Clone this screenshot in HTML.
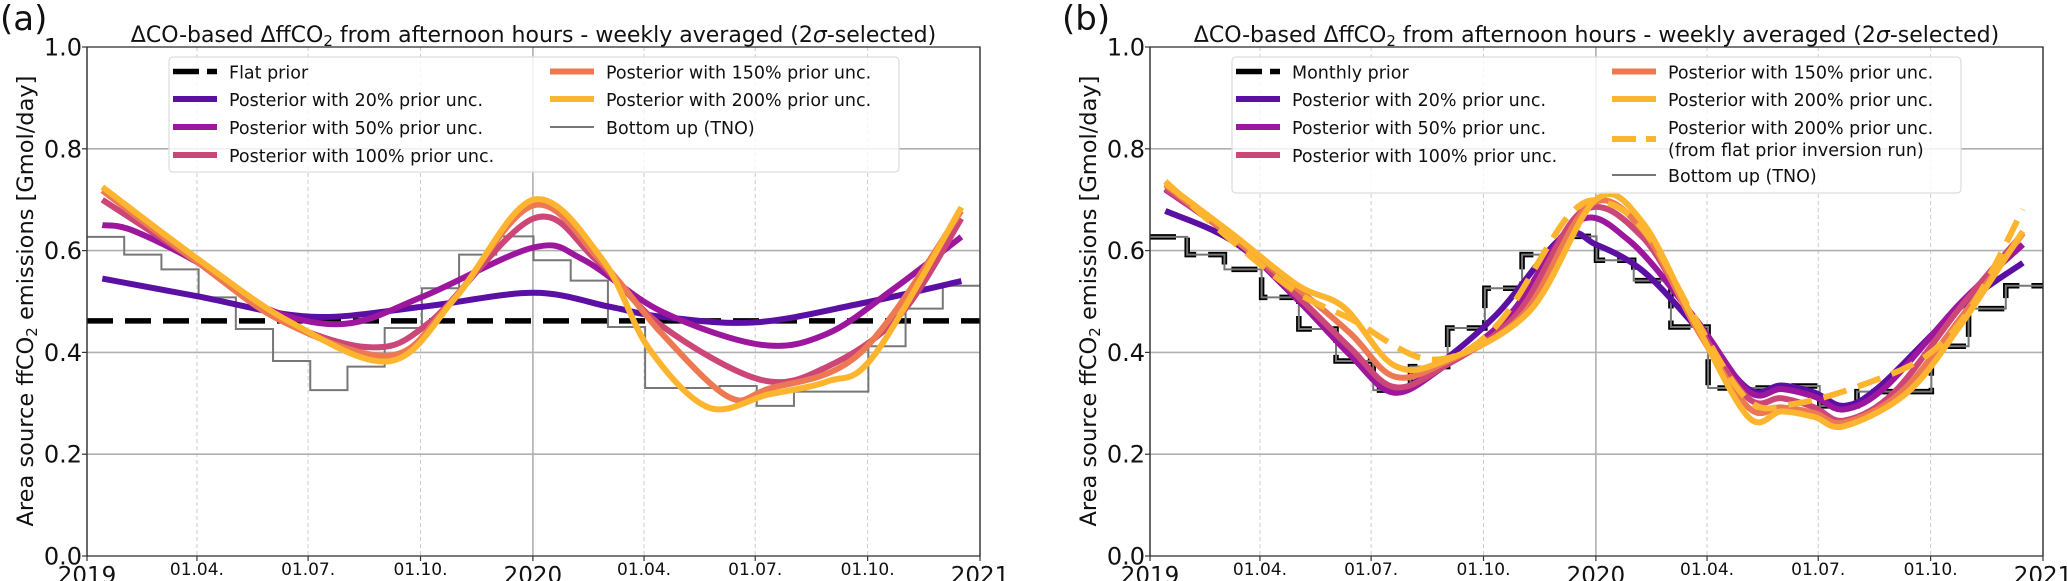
<!DOCTYPE html>
<html><head><meta charset="utf-8">
<style>
html,body{margin:0;padding:0;background:#fff;}
svg{display:block;font-family:"DejaVu Sans","Liberation Sans",sans-serif;}
</style></head>
<body>
<svg id="chart" width="2067" height="581" viewBox="0 0 2067 581" xmlns="http://www.w3.org/2000/svg"></svg>
<script>
// ---------- data (x in months since 1 Jan 2019, y in Gmol/day) ----------
const tickDays = [0, 90, 181, 273, 365, 456, 547, 639, 731];
const tickLabels = ["2019","01.04.","01.07.","01.10.","2020","01.04.","01.07.","01.10.","2021"];
const yTicks = [0.0, 0.2, 0.4, 0.6, 0.8, 1.0];
const yTickLabels = ["0.0","0.2","0.4","0.6","0.8","1.0"];

const tnoMonthly = [0.627,0.592,0.563,0.508,0.446,0.383,0.326,0.372,0.448,0.526,0.592,0.628,
                    0.581,0.541,0.450,0.330,0.330,0.334,0.295,0.323,0.323,0.412,0.486,0.531];
const flatPrior = 0.462;

// panel a
const aP20x  = [0.41,2.99,6.02,9.04,12.0,14.03,15.45,17.95,20.8,23.5];
const aP20y  = [0.545,0.51,0.47,0.49,0.517,0.49,0.47,0.459,0.496,0.54];
const aP50x  = [0.41,1.21,2.99,4.77,6.91,9.04,12.0,13.32,15.45,18.12,19.9,21.68,23.5];
const aP50y  = [0.65,0.64,0.576,0.488,0.456,0.51,0.606,0.583,0.48,0.415,0.437,0.525,0.627];
const aP100x = [0.41,2.99,5.13,7.62,9.22,12.0,13.67,15.45,18.12,19.9,21.86,23.5];
const aP100y = [0.70,0.576,0.466,0.41,0.46,0.663,0.583,0.452,0.346,0.372,0.474,0.663];
const aP150x = [0.41,2.99,5.31,8.15,9.76,12.0,13.85,15.45,17.23,18.3,20.8,23.5];
const aP150y = [0.718,0.576,0.459,0.394,0.496,0.689,0.576,0.437,0.313,0.328,0.40,0.678];
const aP200x = [0.41,2.99,5.48,8.15,9.93,12.0,13.85,15.1,16.7,18.3,19.9,21.15,23.5];
const aP200y = [0.725,0.583,0.459,0.383,0.51,0.70,0.583,0.408,0.292,0.317,0.343,0.394,0.685];

// panel b
const bP20x  = [0.41,2.19,3.97,5.39,6.55,7.53,9.31,11.09,11.98,13.23,14.65,16.08,16.97,17.86,18.66,19.64,21.77,23.46];
const bP20y  = [0.678,0.62,0.51,0.40,0.328,0.364,0.474,0.627,0.612,0.561,0.452,0.328,0.335,0.321,0.295,0.335,0.488,0.576];
const bP50x  = [0.41,2.19,3.97,5.39,6.55,7.89,9.67,11.45,12.87,14.65,16.08,16.97,17.86,18.66,19.81,21.77,23.46];
const bP50y  = [0.72,0.627,0.503,0.394,0.321,0.372,0.474,0.656,0.62,0.467,0.324,0.328,0.313,0.288,0.335,0.496,0.612];
const bP100x = [0.41,2.19,3.97,5.39,6.55,7.89,9.85,11.63,13.23,14.65,16.08,16.97,17.86,18.66,19.99,21.77,23.46];
const bP100y = [0.722,0.627,0.51,0.408,0.332,0.372,0.474,0.678,0.627,0.459,0.31,0.31,0.292,0.266,0.321,0.488,0.634];
const bP150x = [0.41,2.19,3.97,5.39,6.55,7.89,10.02,11.8,13.23,14.65,16.08,16.97,17.86,18.66,20.17,21.77,23.46];
const bP150y = [0.729,0.627,0.525,0.437,0.353,0.379,0.474,0.689,0.641,0.452,0.292,0.292,0.281,0.262,0.321,0.466,0.634];
const bP200x = [0.41,2.19,3.97,5.22,6.55,7.89,10.2,11.98,13.23,14.65,16.08,16.97,17.86,18.66,20.35,21.77,23.46];
const bP200y = [0.732,0.634,0.532,0.488,0.375,0.383,0.481,0.70,0.656,0.459,0.273,0.284,0.273,0.255,0.321,0.452,0.638];
const bFlatx = [0.41,2.19,3.97,5.39,7.53,9.31,11.27,12.34,13.41,14.65,16.08,17.32,19.1,20.88,22.13,23.46];
const bFlaty = [0.736,0.62,0.517,0.466,0.386,0.452,0.67,0.692,0.627,0.467,0.306,0.299,0.335,0.394,0.496,0.681];

const C20="#5b0fa3", C50="#9c179e", C100="#cc4778", C150="#ed7953", C200="#fdb42f";

// ---------- drawing ----------
const svg = document.getElementById('chart');
const NS = "http://www.w3.org/2000/svg";
function mk(tag, attrs, parent){
  const e = document.createElementNS(NS, tag);
  for (const k in attrs) e.setAttribute(k, attrs[k]);
  (parent||svg).appendChild(e);
  return e;
}
function smoothPath(pts){
  let d = "M"+pts[0][0].toFixed(1)+","+pts[0][1].toFixed(1);
  for (let i=0;i<pts.length-1;i++){
    const p0=pts[Math.max(0,i-1)], p1=pts[i], p2=pts[i+1], p3=pts[Math.min(pts.length-1,i+2)];
    const c1x=p1[0]+(p2[0]-p0[0])/6, c1y=p1[1]+(p2[1]-p0[1])/6;
    const c2x=p2[0]-(p3[0]-p1[0])/6, c2y=p2[1]-(p3[1]-p1[1])/6;
    d+=" C"+c1x.toFixed(1)+","+c1y.toFixed(1)+" "+c2x.toFixed(1)+","+c2y.toFixed(1)+" "+p2[0].toFixed(1)+","+p2[1].toFixed(1);
  }
  return d;
}

function panel(cfg){
  const g = mk('g', {});
  
  
  const X0=cfg.x0, X1=cfg.x1, Y0=556, Y1=47;
  const xm = m => X0 + m/24*(X1-X0);
  const xd = d => X0 + d/731*(X1-X0);
  const y = v => Y0 - v*(Y0-Y1);

  tickDays.forEach((d,i)=>{
    const major = (i%4===0);
    const l = mk('line',{x1:xd(d),x2:xd(d),y1:Y1,y2:Y0,stroke:major?"#b0b0b0":"#cccccc","stroke-width":major?1.6:1,"stroke-dasharray":major?"none":"4,3"},g);
    
    
  });
  yTicks.forEach(v=>{
    if (v===0||v===1) return;
    const l = mk('line',{x1:X0,x2:X1,y1:y(v),y2:y(v),stroke:"#b0b0b0","stroke-width":1.6},g);
    
    
  });

  function stepPath(vals){
    let d="";
    vals.forEach((v,i)=>{
      d += (i===0?"M":"L")+xm(i)+","+y(v)+" L"+xm(i+1)+","+y(v)+" ";
    });
    return d;
  }
  if (cfg.flat){
    const l = mk('line',{x1:X0,x2:X1,y1:y(flatPrior),y2:y(flatPrior),stroke:"#000","stroke-width":5.5,"stroke-dasharray":"26,12"},g);
    
    
  } else {
    const p = mk('path',{d:stepPath(tnoMonthly),fill:"none",stroke:"#000","stroke-width":5.5,"stroke-dasharray":"26,12"},g);
    
    
  }
  const tno = mk('path',{d:stepPath(tnoMonthly),fill:"none",stroke:"#777","stroke-width":2},g);
  
  

  cfg.series.forEach(s=>{
    const pts = s.x.map((m,i)=>[xm(m), y(s.y[i])]);
    const p = mk('path',{d:smoothPath(pts),fill:"none",stroke:s.c,"stroke-width":6,"stroke-linecap":"butt","stroke-dasharray":s.dash||"none"},g);
    
    
  });

  const fr = mk('rect',{x:X0,y:Y1,width:X1-X0,height:Y0-Y1,fill:"none",stroke:"#333","stroke-width":1.3},g);
  
  

  yTicks.forEach((v,i)=>{
    mk('line',{x1:X0-5,x2:X0,y1:y(v),y2:y(v),stroke:"#333","stroke-width":1.2},g);
    const t = mk('text',{x:X0-5,y:y(v)+8.5,"text-anchor":"end","font-size":24,fill:"#111"},g);
    t.textContent = yTickLabels[i];
    
    
  });
  tickDays.forEach((d,i)=>{
    mk('line',{x1:xd(d),x2:xd(d),y1:Y0,y2:Y0+5,stroke:"#333","stroke-width":1.2},g);
    const major = (i%4===0);
    const t = mk('text',{x:xd(d),y:major?583:575,"text-anchor":"middle","font-size":major?23:17,fill:"#111"},g);
    t.textContent = tickLabels[i];
    
    
  });

  const yl = mk('text',{x:0,y:0,transform:"translate("+cfg.ylx+",301) rotate(-90)","text-anchor":"middle","font-size":22.5,fill:"#111"},g);
  yl.innerHTML = 'Area source ffCO<tspan font-size="15" dy="4">2</tspan><tspan dy="-4"> emissions [Gmol/day]</tspan>';
  
  

  const tt = mk('text',{x:(X0+X1)/2,y:42,"text-anchor":"middle","font-size":22,fill:"#111"},g);
  tt.innerHTML = 'ΔCO-based ΔffCO<tspan font-size="15" dy="4">2</tspan><tspan dy="-4"> from afternoon hours - weekly averaged (2</tspan><tspan font-style="italic">σ</tspan>-selected)';
  
  

  const pl = mk('text',{x:cfg.lblx,y:30,"font-size":34,fill:"#111"},g);
  pl.textContent = cfg.label;
  
  

  const lg = mk('g',{},g);
  
  
  mk('rect',{x:cfg.leg.x,y:57,width:cfg.leg.w,height:cfg.leg.h,rx:4,fill:"rgba(255,255,255,0.82)",stroke:"#dddddd","stroke-width":1.2},lg);
  cfg.leg.items.forEach(it=>{
    const e = mk('g',{},lg);
    
    
    mk('line',{x1:it.hx,x2:it.hx+44,y1:it.hy,y2:it.hy,stroke:it.c,"stroke-width":it.w,"stroke-dasharray":it.dash||"none"},e);
    it.lines.forEach((s,k)=>{
      const t = mk('text',{x:it.hx+56,y:it.ty+7+k*22,"font-size":17.5,fill:"#111"},e);
      t.textContent = s;
    });
  });
}

panel({
  name:"panel-a", x0:87, x1:980, ylx:33, lblx:0, label:"(a)", flat:true,
  series:[
    {name:"posterior-20-line",x:aP20x,y:aP20y,c:C20},
    {name:"posterior-50-line",x:aP50x,y:aP50y,c:C50},
    {name:"posterior-100-line",x:aP100x,y:aP100y,c:C100},
    {name:"posterior-150-line",x:aP150x,y:aP150y,c:C150},
    {name:"posterior-200-line",x:aP200x,y:aP200y,c:C200}
  ],
  leg:{x:169,w:730,h:115,items:[
    {hx:173,hy:71.5,ty:71.5,c:"#000",w:5.5,dash:"26,8",lines:["Flat prior"]},
    {hx:173,hy:99,ty:99,c:C20,w:6,lines:["Posterior with 20% prior unc."]},
    {hx:173,hy:127,ty:127,c:C50,w:6,lines:["Posterior with 50% prior unc."]},
    {hx:173,hy:155,ty:155,c:C100,w:6,lines:["Posterior with 100% prior unc."]},
    {hx:550,hy:71.5,ty:71.5,c:C150,w:6,lines:["Posterior with 150% prior unc."]},
    {hx:550,hy:99,ty:99,c:C200,w:6,lines:["Posterior with 200% prior unc."]},
    {hx:550,hy:127,ty:127,c:"#777",w:2,lines:["Bottom up (TNO)"]}
  ]}
});

panel({
  name:"panel-b", x0:1150, x1:2043, ylx:1096, lblx:1062, label:"(b)", flat:false,
  series:[
    {name:"posterior-20-line",x:bP20x,y:bP20y,c:C20},
    {name:"posterior-50-line",x:bP50x,y:bP50y,c:C50},
    {name:"posterior-100-line",x:bP100x,y:bP100y,c:C100},
    {name:"posterior-150-line",x:bP150x,y:bP150y,c:C150},
    {name:"posterior-200-line",x:bP200x,y:bP200y,c:C200},
    {name:"posterior-200-flat-prior-line",x:bFlatx,y:bFlaty,c:C200,dash:"24,12"}
  ],
  leg:{x:1232,w:729,h:136,items:[
    {hx:1236,hy:71.5,ty:71.5,c:"#000",w:5.5,dash:"26,8",lines:["Monthly prior"]},
    {hx:1236,hy:99,ty:99,c:C20,w:6,lines:["Posterior with 20% prior unc."]},
    {hx:1236,hy:127,ty:127,c:C50,w:6,lines:["Posterior with 50% prior unc."]},
    {hx:1236,hy:155,ty:155,c:C100,w:6,lines:["Posterior with 100% prior unc."]},
    {hx:1612,hy:71.5,ty:71.5,c:C150,w:6,lines:["Posterior with 150% prior unc."]},
    {hx:1612,hy:99,ty:99,c:C200,w:6,lines:["Posterior with 200% prior unc."]},
    {hx:1612,hy:139,ty:127,c:C200,w:6,dash:"24,10",lines:["Posterior with 200% prior unc.","(from flat prior inversion run)"]},
    {hx:1612,hy:175,ty:175,c:"#777",w:2,lines:["Bottom up (TNO)"]}
  ]}
});
</script>
</body></html>
